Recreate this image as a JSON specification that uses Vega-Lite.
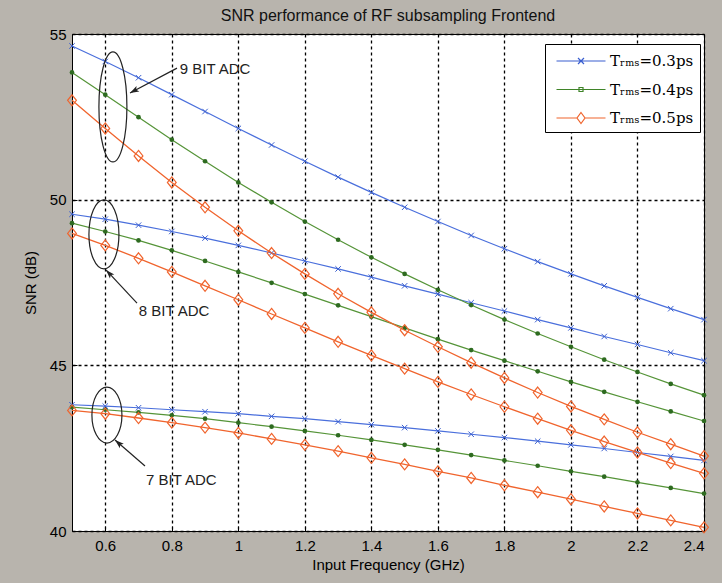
{
  "$schema": "https://vega.github.io/schema/vega-lite/v6.json",
  "width": 632,
  "height": 497,
  "autosize": {"type": "none"},
  "padding": {"left": 72, "top": 34, "right": 18, "bottom": 52},
  "title": {"text": "SNR performance of RF subsampling Frontend", "fontSize": 16, "fontWeight": "normal", "font": "Liberation Sans", "color": "#111111", "offset": 3},
  "datasets": {
    "snr": [
      {"freq":0.5,"snr":54.64,"adc":"9 bit","trms":"0.3"},{"freq":0.6,"snr":54.17,"adc":"9 bit","trms":"0.3"},{"freq":0.7,"snr":53.68,"adc":"9 bit","trms":"0.3"},{"freq":0.8,"snr":53.17,"adc":"9 bit","trms":"0.3"},{"freq":0.9,"snr":52.66,"adc":"9 bit","trms":"0.3"},{"freq":1.0,"snr":52.15,"adc":"9 bit","trms":"0.3"},{"freq":1.1,"snr":51.65,"adc":"9 bit","trms":"0.3"},{"freq":1.2,"snr":51.16,"adc":"9 bit","trms":"0.3"},{"freq":1.3,"snr":50.68,"adc":"9 bit","trms":"0.3"},{"freq":1.4,"snr":50.22,"adc":"9 bit","trms":"0.3"},{"freq":1.5,"snr":49.77,"adc":"9 bit","trms":"0.3"},{"freq":1.6,"snr":49.34,"adc":"9 bit","trms":"0.3"},{"freq":1.7,"snr":48.92,"adc":"9 bit","trms":"0.3"},{"freq":1.8,"snr":48.52,"adc":"9 bit","trms":"0.3"},{"freq":1.9,"snr":48.13,"adc":"9 bit","trms":"0.3"},{"freq":2.0,"snr":47.76,"adc":"9 bit","trms":"0.3"},{"freq":2.1,"snr":47.40,"adc":"9 bit","trms":"0.3"},{"freq":2.2,"snr":47.05,"adc":"9 bit","trms":"0.3"},{"freq":2.3,"snr":46.71,"adc":"9 bit","trms":"0.3"},{"freq":2.4,"snr":46.38,"adc":"9 bit","trms":"0.3"},
      {"freq":0.5,"snr":53.84,"adc":"9 bit","trms":"0.4"},{"freq":0.6,"snr":53.17,"adc":"9 bit","trms":"0.4"},{"freq":0.7,"snr":52.49,"adc":"9 bit","trms":"0.4"},{"freq":0.8,"snr":51.81,"adc":"9 bit","trms":"0.4"},{"freq":0.9,"snr":51.16,"adc":"9 bit","trms":"0.4"},{"freq":1.0,"snr":50.52,"adc":"9 bit","trms":"0.4"},{"freq":1.1,"snr":49.92,"adc":"9 bit","trms":"0.4"},{"freq":1.2,"snr":49.34,"adc":"9 bit","trms":"0.4"},{"freq":1.3,"snr":48.79,"adc":"9 bit","trms":"0.4"},{"freq":1.4,"snr":48.26,"adc":"9 bit","trms":"0.4"},{"freq":1.5,"snr":47.76,"adc":"9 bit","trms":"0.4"},{"freq":1.6,"snr":47.28,"adc":"9 bit","trms":"0.4"},{"freq":1.7,"snr":46.82,"adc":"9 bit","trms":"0.4"},{"freq":1.8,"snr":46.38,"adc":"9 bit","trms":"0.4"},{"freq":1.9,"snr":45.96,"adc":"9 bit","trms":"0.4"},{"freq":2.0,"snr":45.56,"adc":"9 bit","trms":"0.4"},{"freq":2.1,"snr":45.17,"adc":"9 bit","trms":"0.4"},{"freq":2.2,"snr":44.80,"adc":"9 bit","trms":"0.4"},{"freq":2.3,"snr":44.44,"adc":"9 bit","trms":"0.4"},{"freq":2.4,"snr":44.10,"adc":"9 bit","trms":"0.4"},
      {"freq":0.5,"snr":53.00,"adc":"9 bit","trms":"0.5"},{"freq":0.6,"snr":52.15,"adc":"9 bit","trms":"0.5"},{"freq":0.7,"snr":51.32,"adc":"9 bit","trms":"0.5"},{"freq":0.8,"snr":50.52,"adc":"9 bit","trms":"0.5"},{"freq":0.9,"snr":49.77,"adc":"9 bit","trms":"0.5"},{"freq":1.0,"snr":49.06,"adc":"9 bit","trms":"0.5"},{"freq":1.1,"snr":48.39,"adc":"9 bit","trms":"0.5"},{"freq":1.2,"snr":47.76,"adc":"9 bit","trms":"0.5"},{"freq":1.3,"snr":47.16,"adc":"9 bit","trms":"0.5"},{"freq":1.4,"snr":46.60,"adc":"9 bit","trms":"0.5"},{"freq":1.5,"snr":46.06,"adc":"9 bit","trms":"0.5"},{"freq":1.6,"snr":45.56,"adc":"9 bit","trms":"0.5"},{"freq":1.7,"snr":45.08,"adc":"9 bit","trms":"0.5"},{"freq":1.8,"snr":44.62,"adc":"9 bit","trms":"0.5"},{"freq":1.9,"snr":44.18,"adc":"9 bit","trms":"0.5"},{"freq":2.0,"snr":43.76,"adc":"9 bit","trms":"0.5"},{"freq":2.1,"snr":43.37,"adc":"9 bit","trms":"0.5"},{"freq":2.2,"snr":42.98,"adc":"9 bit","trms":"0.5"},{"freq":2.3,"snr":42.62,"adc":"9 bit","trms":"0.5"},{"freq":2.4,"snr":42.26,"adc":"9 bit","trms":"0.5"},
      {"freq":0.5,"snr":49.56,"adc":"8 bit","trms":"0.3"},{"freq":0.6,"snr":49.41,"adc":"8 bit","trms":"0.3"},{"freq":0.7,"snr":49.23,"adc":"8 bit","trms":"0.3"},{"freq":0.8,"snr":49.04,"adc":"8 bit","trms":"0.3"},{"freq":0.9,"snr":48.84,"adc":"8 bit","trms":"0.3"},{"freq":1.0,"snr":48.62,"adc":"8 bit","trms":"0.3"},{"freq":1.1,"snr":48.39,"adc":"8 bit","trms":"0.3"},{"freq":1.2,"snr":48.15,"adc":"8 bit","trms":"0.3"},{"freq":1.3,"snr":47.91,"adc":"8 bit","trms":"0.3"},{"freq":1.4,"snr":47.66,"adc":"8 bit","trms":"0.3"},{"freq":1.5,"snr":47.40,"adc":"8 bit","trms":"0.3"},{"freq":1.6,"snr":47.15,"adc":"8 bit","trms":"0.3"},{"freq":1.7,"snr":46.89,"adc":"8 bit","trms":"0.3"},{"freq":1.8,"snr":46.64,"adc":"8 bit","trms":"0.3"},{"freq":1.9,"snr":46.38,"adc":"8 bit","trms":"0.3"},{"freq":2.0,"snr":46.13,"adc":"8 bit","trms":"0.3"},{"freq":2.1,"snr":45.87,"adc":"8 bit","trms":"0.3"},{"freq":2.2,"snr":45.63,"adc":"8 bit","trms":"0.3"},{"freq":2.3,"snr":45.38,"adc":"8 bit","trms":"0.3"},{"freq":2.4,"snr":45.14,"adc":"8 bit","trms":"0.3"},
      {"freq":0.5,"snr":49.29,"adc":"8 bit","trms":"0.4"},{"freq":0.6,"snr":49.04,"adc":"8 bit","trms":"0.4"},{"freq":0.7,"snr":48.77,"adc":"8 bit","trms":"0.4"},{"freq":0.8,"snr":48.47,"adc":"8 bit","trms":"0.4"},{"freq":0.9,"snr":48.15,"adc":"8 bit","trms":"0.4"},{"freq":1.0,"snr":47.82,"adc":"8 bit","trms":"0.4"},{"freq":1.1,"snr":47.49,"adc":"8 bit","trms":"0.4"},{"freq":1.2,"snr":47.15,"adc":"8 bit","trms":"0.4"},{"freq":1.3,"snr":46.81,"adc":"8 bit","trms":"0.4"},{"freq":1.4,"snr":46.47,"adc":"8 bit","trms":"0.4"},{"freq":1.5,"snr":46.13,"adc":"8 bit","trms":"0.4"},{"freq":1.6,"snr":45.79,"adc":"8 bit","trms":"0.4"},{"freq":1.7,"snr":45.46,"adc":"8 bit","trms":"0.4"},{"freq":1.8,"snr":45.14,"adc":"8 bit","trms":"0.4"},{"freq":1.9,"snr":44.82,"adc":"8 bit","trms":"0.4"},{"freq":2.0,"snr":44.50,"adc":"8 bit","trms":"0.4"},{"freq":2.1,"snr":44.20,"adc":"8 bit","trms":"0.4"},{"freq":2.2,"snr":43.90,"adc":"8 bit","trms":"0.4"},{"freq":2.3,"snr":43.61,"adc":"8 bit","trms":"0.4"},{"freq":2.4,"snr":43.32,"adc":"8 bit","trms":"0.4"},
      {"freq":0.5,"snr":48.98,"adc":"8 bit","trms":"0.5"},{"freq":0.6,"snr":48.62,"adc":"8 bit","trms":"0.5"},{"freq":0.7,"snr":48.23,"adc":"8 bit","trms":"0.5"},{"freq":0.8,"snr":47.82,"adc":"8 bit","trms":"0.5"},{"freq":0.9,"snr":47.40,"adc":"8 bit","trms":"0.5"},{"freq":1.0,"snr":46.98,"adc":"8 bit","trms":"0.5"},{"freq":1.1,"snr":46.55,"adc":"8 bit","trms":"0.5"},{"freq":1.2,"snr":46.13,"adc":"8 bit","trms":"0.5"},{"freq":1.3,"snr":45.71,"adc":"8 bit","trms":"0.5"},{"freq":1.4,"snr":45.30,"adc":"8 bit","trms":"0.5"},{"freq":1.5,"snr":44.90,"adc":"8 bit","trms":"0.5"},{"freq":1.6,"snr":44.50,"adc":"8 bit","trms":"0.5"},{"freq":1.7,"snr":44.12,"adc":"8 bit","trms":"0.5"},{"freq":1.8,"snr":43.75,"adc":"8 bit","trms":"0.5"},{"freq":1.9,"snr":43.39,"adc":"8 bit","trms":"0.5"},{"freq":2.0,"snr":43.04,"adc":"8 bit","trms":"0.5"},{"freq":2.1,"snr":42.70,"adc":"8 bit","trms":"0.5"},{"freq":2.2,"snr":42.37,"adc":"8 bit","trms":"0.5"},{"freq":2.3,"snr":42.05,"adc":"8 bit","trms":"0.5"},{"freq":2.4,"snr":41.74,"adc":"8 bit","trms":"0.5"},
      {"freq":0.5,"snr":43.81,"adc":"7 bit","trms":"0.3"},{"freq":0.6,"snr":43.77,"adc":"7 bit","trms":"0.3"},{"freq":0.7,"snr":43.72,"adc":"7 bit","trms":"0.3"},{"freq":0.8,"snr":43.66,"adc":"7 bit","trms":"0.3"},{"freq":0.9,"snr":43.60,"adc":"7 bit","trms":"0.3"},{"freq":1.0,"snr":43.54,"adc":"7 bit","trms":"0.3"},{"freq":1.1,"snr":43.46,"adc":"7 bit","trms":"0.3"},{"freq":1.2,"snr":43.39,"adc":"7 bit","trms":"0.3"},{"freq":1.3,"snr":43.30,"adc":"7 bit","trms":"0.3"},{"freq":1.4,"snr":43.21,"adc":"7 bit","trms":"0.3"},{"freq":1.5,"snr":43.12,"adc":"7 bit","trms":"0.3"},{"freq":1.6,"snr":43.02,"adc":"7 bit","trms":"0.3"},{"freq":1.7,"snr":42.92,"adc":"7 bit","trms":"0.3"},{"freq":1.8,"snr":42.82,"adc":"7 bit","trms":"0.3"},{"freq":1.9,"snr":42.71,"adc":"7 bit","trms":"0.3"},{"freq":2.0,"snr":42.60,"adc":"7 bit","trms":"0.3"},{"freq":2.1,"snr":42.49,"adc":"7 bit","trms":"0.3"},{"freq":2.2,"snr":42.37,"adc":"7 bit","trms":"0.3"},{"freq":2.3,"snr":42.25,"adc":"7 bit","trms":"0.3"},{"freq":2.4,"snr":42.13,"adc":"7 bit","trms":"0.3"},
      {"freq":0.5,"snr":43.74,"adc":"7 bit","trms":"0.4"},{"freq":0.6,"snr":43.66,"adc":"7 bit","trms":"0.4"},{"freq":0.7,"snr":43.58,"adc":"7 bit","trms":"0.4"},{"freq":0.8,"snr":43.49,"adc":"7 bit","trms":"0.4"},{"freq":0.9,"snr":43.39,"adc":"7 bit","trms":"0.4"},{"freq":1.0,"snr":43.27,"adc":"7 bit","trms":"0.4"},{"freq":1.1,"snr":43.15,"adc":"7 bit","trms":"0.4"},{"freq":1.2,"snr":43.02,"adc":"7 bit","trms":"0.4"},{"freq":1.3,"snr":42.89,"adc":"7 bit","trms":"0.4"},{"freq":1.4,"snr":42.75,"adc":"7 bit","trms":"0.4"},{"freq":1.5,"snr":42.60,"adc":"7 bit","trms":"0.4"},{"freq":1.6,"snr":42.45,"adc":"7 bit","trms":"0.4"},{"freq":1.7,"snr":42.29,"adc":"7 bit","trms":"0.4"},{"freq":1.8,"snr":42.13,"adc":"7 bit","trms":"0.4"},{"freq":1.9,"snr":41.97,"adc":"7 bit","trms":"0.4"},{"freq":2.0,"snr":41.80,"adc":"7 bit","trms":"0.4"},{"freq":2.1,"snr":41.64,"adc":"7 bit","trms":"0.4"},{"freq":2.2,"snr":41.47,"adc":"7 bit","trms":"0.4"},{"freq":2.3,"snr":41.30,"adc":"7 bit","trms":"0.4"},{"freq":2.4,"snr":41.13,"adc":"7 bit","trms":"0.4"},
      {"freq":0.5,"snr":43.64,"adc":"7 bit","trms":"0.5"},{"freq":0.6,"snr":43.54,"adc":"7 bit","trms":"0.5"},{"freq":0.7,"snr":43.41,"adc":"7 bit","trms":"0.5"},{"freq":0.8,"snr":43.27,"adc":"7 bit","trms":"0.5"},{"freq":0.9,"snr":43.12,"adc":"7 bit","trms":"0.5"},{"freq":1.0,"snr":42.96,"adc":"7 bit","trms":"0.5"},{"freq":1.1,"snr":42.78,"adc":"7 bit","trms":"0.5"},{"freq":1.2,"snr":42.60,"adc":"7 bit","trms":"0.5"},{"freq":1.3,"snr":42.41,"adc":"7 bit","trms":"0.5"},{"freq":1.4,"snr":42.21,"adc":"7 bit","trms":"0.5"},{"freq":1.5,"snr":42.01,"adc":"7 bit","trms":"0.5"},{"freq":1.6,"snr":41.80,"adc":"7 bit","trms":"0.5"},{"freq":1.7,"snr":41.60,"adc":"7 bit","trms":"0.5"},{"freq":1.8,"snr":41.38,"adc":"7 bit","trms":"0.5"},{"freq":1.9,"snr":41.17,"adc":"7 bit","trms":"0.5"},{"freq":2.0,"snr":40.96,"adc":"7 bit","trms":"0.5"},{"freq":2.1,"snr":40.74,"adc":"7 bit","trms":"0.5"},{"freq":2.2,"snr":40.53,"adc":"7 bit","trms":"0.5"},{"freq":2.3,"snr":40.32,"adc":"7 bit","trms":"0.5"},{"freq":2.4,"snr":40.11,"adc":"7 bit","trms":"0.5"}
    ],
    "notes": [
      {"adc":"9 bit","label":"9 BIT ADC","cx":0.623,"cy":52.80,"tailx":0.8157,"taily":53.97,"headx":0.6744,"heady":53.22,"lx":0.824,"ly":53.94},
      {"adc":"8 bit","label":"8 BIT ADC","cx":0.596,"cy":48.95,"tailx":0.6954,"taily":46.88,"headx":0.6022,"heady":47.88,"lx":0.701,"ly":46.64},
      {"adc":"7 bit","label":"7 BIT ADC","cx":0.605,"cy":43.50,"tailx":0.7195,"taily":41.96,"headx":0.6293,"heady":42.745,"lx":0.7225,"ly":41.54}
    ]
  },
  "encoding": {
    "x": {"field": "freq", "type": "quantitative", "scale": {"domain": [0.5, 2.4], "nice": false, "zero": false},
      "axis": {"title": "Input Frequency (GHz)", "values": [0.6, 0.8, 1, 1.2, 1.4, 1.6, 1.8, 2, 2.2, 2.4], "format": "~g", "labelPadding": 12, "titlePadding": 4}},
    "y": {"field": "snr", "type": "quantitative", "scale": {"domain": [40, 55], "nice": false, "zero": false},
      "axis": {"title": "SNR (dB)", "values": [40, 45, 50, 55], "format": "d", "labelPadding": 11, "titlePadding": 11}}
  },
  "layer": [
    {"data": {"name": "snr"}, "transform": [{"filter": "datum.trms == '0.3'"}],
      "mark": {"type": "line", "color": "#4a6fdc", "strokeWidth": 1.2},
      "encoding": {"detail": {"field": "adc"}}},
    {"data": {"name": "snr"}, "transform": [{"filter": "datum.trms == '0.3'"}],
      "mark": {"type": "point", "shape": "M-1,-1L1,1M-1,1L1,-1", "size": 30, "filled": false, "stroke": "#3a5fd0", "strokeWidth": 1, "opacity": 1}},
    {"data": {"name": "snr"}, "transform": [{"filter": "datum.trms == '0.4'"}],
      "mark": {"type": "line", "color": "#559438", "strokeWidth": 1.2},
      "encoding": {"detail": {"field": "adc"}}},
    {"data": {"name": "snr"}, "transform": [{"filter": "datum.trms == '0.4'"}],
      "mark": {"type": "point", "shape": "circle", "size": 22, "filled": true, "color": "#2e6b20", "opacity": 1}},
    {"data": {"name": "snr"}, "transform": [{"filter": "datum.trms == '0.5'"}],
      "mark": {"type": "line", "color": "#f0642d", "strokeWidth": 1.3},
      "encoding": {"detail": {"field": "adc"}}},
    {"data": {"name": "snr"}, "transform": [{"filter": "datum.trms == '0.5'"}],
      "mark": {"type": "point", "shape": "M0,-1L0.8,0L0,1L-0.8,0Z", "size": 121, "filled": false, "stroke": "#f0642d", "strokeWidth": 1.2, "opacity": 1}},
    {"data": {"name": "snr"}, "transform": [{"filter": "datum.freq > 100"}],
      "mark": {"type": "point", "filled": false, "opacity": 1},
      "encoding": {
        "color": {"field": "trms", "type": "nominal",
          "scale": {"domain": ["0.3", "0.4", "0.5"], "range": ["#3a5fd0", "#3f8428", "#f0642d"]},
          "legend": {"title": null, "orient": "none", "legendX": 473, "legendY": 10, "padding": 6, "fillColor": "white", "strokeColor": "black",
            "symbolSize": 400, "symbolStrokeWidth": 1.2, "symbolOffset": 19, "labelOffset": 18, "rowPadding": 9.5,
            "labelFont": "DejaVu Serif", "labelFontSize": 15, "labelColor": "black",
            "labelExpr": "datum.label == '0.3' ? 'Tᵣₘₛ=0.3ps' : datum.label == '0.4' ? 'Tᵣₘₛ=0.4ps' : 'Tᵣₘₛ=0.5ps'"}},
        "shape": {"field": "trms", "type": "nominal",
          "scale": {"domain": ["0.3", "0.4", "0.5"], "range": [
            "M-2.45,0L2.45,0M-0.3,-0.3L0.3,0.3M-0.3,0.3L0.3,-0.3",
            "M-2.45,0L2.45,0M-0.2,-0.2L0.2,-0.2L0.2,0.2L-0.2,0.2ZM-0.1,0L0.1,0",
            "M-2.45,0L-0.4,0M0.4,0L2.45,0M0,-0.55L0.4,0L0,0.55L-0.4,0Z"]},
          "legend": {"title": null, "orient": "none", "legendX": 473, "legendY": 10, "padding": 6, "fillColor": "white", "strokeColor": "black",
            "symbolSize": 400, "symbolStrokeWidth": 1.2, "symbolOffset": 19, "labelOffset": 18, "rowPadding": 9.5,
            "labelFont": "DejaVu Serif", "labelFontSize": 15, "labelColor": "black",
            "labelExpr": "datum.label == '0.3' ? 'Tᵣₘₛ=0.3ps' : datum.label == '0.4' ? 'Tᵣₘₛ=0.4ps' : 'Tᵣₘₛ=0.5ps'"}}
      }},
    {"data": {"name": "notes"}, "transform": [{"filter": "datum.adc == '9 bit'"}],
      "mark": {"type": "point", "shape": "M0,-1C0.1406,-1,0.2545,-0.5523,0.2545,0C0.2545,0.5523,0.1406,1,0,1C-0.1406,1,-0.2545,0.5523,-0.2545,0C-0.2545,-0.5523,-0.1406,-1,0,-1Z", "size": 12100, "filled": false, "stroke": "#222222", "strokeWidth": 1.2, "opacity": 1},
      "encoding": {"x": {"field": "cx", "type": "quantitative"}, "y": {"field": "cy", "type": "quantitative"}}},
    {"data": {"name": "notes"}, "transform": [{"filter": "datum.adc == '8 bit'"}],
      "mark": {"type": "point", "shape": "M0,-1C0.2402,-1,0.435,-0.5523,0.435,0C0.435,0.5523,0.2402,1,0,1C-0.2402,1,-0.435,0.5523,-0.435,0C-0.435,-0.5523,-0.2402,-1,0,-1Z", "size": 4761, "filled": false, "stroke": "#222222", "strokeWidth": 1.2, "opacity": 1},
      "encoding": {"x": {"field": "cx", "type": "quantitative"}, "y": {"field": "cy", "type": "quantitative"}}},
    {"data": {"name": "notes"}, "transform": [{"filter": "datum.adc == '7 bit'"}],
      "mark": {"type": "point", "shape": "M0,-1C0.296,-1,0.536,-0.5523,0.536,0C0.536,0.5523,0.296,1,0,1C-0.296,1,-0.536,0.5523,-0.536,0C-0.536,-0.5523,-0.296,-1,0,-1Z", "size": 3136, "filled": false, "stroke": "#222222", "strokeWidth": 1.2, "opacity": 1},
      "encoding": {"x": {"field": "cx", "type": "quantitative"}, "y": {"field": "cy", "type": "quantitative"}}},
    {"data": {"name": "notes"},
      "mark": {"type": "rule", "color": "#222222", "strokeWidth": 1.2},
      "encoding": {"x": {"field": "tailx", "type": "quantitative"}, "y": {"field": "taily", "type": "quantitative"}, "x2": {"field": "headx"}, "y2": {"field": "heady"}}},
    {"data": {"name": "notes"}, "transform": [{"filter": "datum.adc == '9 bit'"}],
      "mark": {"type": "point", "shape": "M0,0L0.6,1.8L0,1.4L-0.6,1.8Z", "size": 100, "filled": true, "color": "#222222", "angle": 242, "opacity": 1},
      "encoding": {"x": {"field": "headx", "type": "quantitative"}, "y": {"field": "heady", "type": "quantitative"}}},
    {"data": {"name": "notes"}, "transform": [{"filter": "datum.adc == '8 bit'"}],
      "mark": {"type": "point", "shape": "M0,0L0.6,1.8L0,1.4L-0.6,1.8Z", "size": 100, "filled": true, "color": "#222222", "angle": 317, "opacity": 1},
      "encoding": {"x": {"field": "headx", "type": "quantitative"}, "y": {"field": "heady", "type": "quantitative"}}},
    {"data": {"name": "notes"}, "transform": [{"filter": "datum.adc == '7 bit'"}],
      "mark": {"type": "point", "shape": "M0,0L0.6,1.8L0,1.4L-0.6,1.8Z", "size": 100, "filled": true, "color": "#222222", "angle": 311, "opacity": 1},
      "encoding": {"x": {"field": "headx", "type": "quantitative"}, "y": {"field": "heady", "type": "quantitative"}}},
    {"data": {"name": "notes"},
      "mark": {"type": "text", "align": "left", "baseline": "middle", "font": "Liberation Sans", "fontSize": 15, "color": "#222222"},
      "encoding": {"x": {"field": "lx", "type": "quantitative"}, "y": {"field": "ly", "type": "quantitative"}, "text": {"field": "label"}}}
  ],
  "config": {
    "background": "#b8b4ad",
    "view": {"fill": "white", "stroke": "black", "strokeWidth": 1},
    "axis": {"labelFont": "Liberation Sans", "labelFontSize": 15, "labelColor": "black", "titleFont": "Liberation Sans", "titleFontSize": 15, "titleFontWeight": "normal", "titleColor": "black",
      "domain": false, "grid": true, "gridColor": "black", "gridDash": [3, 3], "gridWidth": 1.3, "gridOpacity": 1,
      "ticks": true, "tickColor": "black", "tickSize": -5, "tickWidth": 1}
  }
}
